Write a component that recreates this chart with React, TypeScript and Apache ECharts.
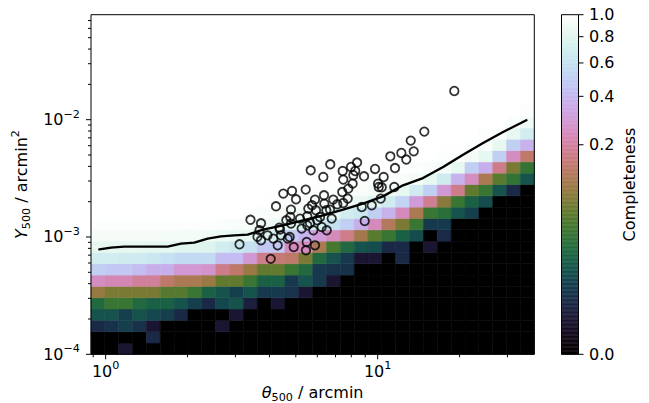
import React, { useEffect, useRef } from 'react';
import * as echarts from 'echarts';

const FONT = '"DejaVu Sans", "Liberation Sans", sans-serif';

// Bin grid of the completeness map (log-spaced edges)
const THETA_EDGE_MIN = 0.8834;
const THETA_EDGE_MAX = 37.65;
const THETA_BINS = 32;
const Y_EDGE_MIN = 1e-4;
const Y_EDGE_MAX = 0.0785;
const Y_BINS = 30;

// Colour scaling of the completeness map
const NORM_GAMMA = 0.3;

// Completeness per cell: row 0 = lowest Y500 bin, column 0 = smallest theta bin
const completeness: number[][] = [
  [0, 0, 0.0005, 0, 0, 0, 0, 0, 0, 0, 0, 0, 0, 0, 0, 0, 0, 0, 0, 0, 0, 0, 0, 0, 0, 0, 0, 0, 0, 0, 0, 0],
  [0, 0, 0, 0, 0.002, 0, 0, 0, 0, 0, 0, 0, 0, 0, 0, 0, 0, 0, 0, 0, 0, 0, 0, 0, 0, 0, 0, 0, 0, 0, 0, 0],
  [0.002, 0.003, 0.005, 0.003, 0.0005, 0, 0, 0, 0, 0.0005, 0, 0, 0, 0, 0, 0, 0, 0, 0, 0, 0, 0, 0, 0, 0, 0, 0, 0, 0, 0, 0, 0],
  [0.01, 0.01, 0.005, 0.01, 0.007, 0.005, 0.002, 0, 0, 0, 0.0005, 0, 0, 0, 0, 0, 0, 0, 0, 0, 0, 0, 0, 0, 0, 0, 0, 0, 0, 0, 0, 0],
  [0.02, 0.033, 0.033, 0.02, 0.015, 0.015, 0.01, 0.005, 0.002, 0.007, 0.01, 0.001, 0, 0.0005, 0, 0, 0, 0, 0, 0, 0, 0, 0, 0, 0, 0, 0, 0, 0, 0, 0, 0],
  [0.09, 0.07, 0.07, 0.07, 0.07, 0.047, 0.047, 0.033, 0.015, 0.01, 0.005, 0.01, 0.004, 0.004, 0.003, 0.0005, 0, 0, 0, 0, 0, 0, 0, 0, 0, 0, 0, 0, 0, 0, 0, 0],
  [0.25, 0.225, 0.225, 0.19, 0.19, 0.136, 0.11, 0.11, 0.093, 0.055, 0.055, 0.033, 0.015, 0.015, 0.004, 0.01, 0.004, 0.0005, 0, 0, 0, 0, 0, 0, 0, 0, 0, 0, 0, 0, 0, 0],
  [0.5, 0.46, 0.46, 0.42, 0.37, 0.37, 0.29, 0.29, 0.27, 0.17, 0.136, 0.093, 0.055, 0.055, 0.033, 0.02, 0.004, 0.003, 0.003, 0, 0, 0, 0, 0, 0, 0, 0, 0, 0, 0, 0, 0],
  [0.7, 0.7, 0.68, 0.68, 0.65, 0.6, 0.56, 0.56, 0.56, 0.42, 0.42, 0.29, 0.17, 0.15, 0.136, 0.07, 0.02, 0.01, 0.004, 0.0005, 0.0005, 0, 0.002, 0, 0, 0, 0, 0, 0, 0, 0, 0],
  [0.84, 0.84, 0.84, 0.84, 0.82, 0.82, 0.8, 0.8, 0.78, 0.7, 0.65, 0.6, 0.46, 0.46, 0.24, 0.24, 0.11, 0.04, 0.02, 0.01, 0.008, 0.002, 0.002, 0, 0.0005, 0, 0, 0, 0, 0, 0, 0],
  [0.93, 0.93, 0.93, 0.93, 0.93, 0.93, 0.92, 0.92, 0.9, 0.88, 0.86, 0.84, 0.75, 0.72, 0.48, 0.38, 0.3, 0.24, 0.17, 0.1, 0.05, 0.033, 0.015, 0.008, 0, 0.002, 0, 0, 0, 0, 0, 0],
  [0.97, 0.97, 0.97, 0.98, 0.98, 0.98, 0.98, 0.98, 0.97, 0.96, 0.95, 0.94, 0.9, 0.88, 0.8, 0.75, 0.7, 0.6, 0.5, 0.37, 0.24, 0.12, 0.07, 0.033, 0.004, 0.004, 0, 0, 0, 0, 0, 0],
  [1, 1, 1, 1, 1, 1, 1, 1, 1, 1, 1, 0.98, 0.96, 0.95, 0.92, 0.9, 0.88, 0.82, 0.7, 0.65, 0.5, 0.38, 0.24, 0.11, 0.033, 0.025, 0.01, 0.005, 0, 0, 0, 0],
  [1, 1, 1, 1, 1, 1, 1, 1, 1, 1, 1, 1, 0.99, 0.98, 0.97, 0.96, 0.95, 0.93, 0.9, 0.86, 0.8, 0.68, 0.52, 0.3, 0.18, 0.08, 0.033, 0.015, 0.008, 0, 0, 0],
  [1, 1, 1, 1, 1, 1, 1, 1, 1, 1, 1, 1, 1, 1, 1, 1, 0.98, 0.97, 0.96, 0.95, 0.93, 0.9, 0.84, 0.68, 0.5, 0.29, 0.17, 0.055, 0.033, 0.01, 0.002, 0],
  [1, 1, 1, 1, 1, 1, 1, 1, 1, 1, 1, 1, 1, 1, 1, 1, 1, 1, 0.99, 0.98, 0.97, 0.96, 0.95, 0.92, 0.84, 0.68, 0.38, 0.25, 0.11, 0.05, 0.03, 0.01],
  [1, 1, 1, 1, 1, 1, 1, 1, 1, 1, 1, 1, 1, 1, 1, 1, 1, 1, 1, 1, 1, 0.99, 0.98, 0.97, 0.95, 0.92, 0.84, 0.5, 0.37, 0.17, 0.07, 0.03],
  [1, 1, 1, 1, 1, 1, 1, 1, 1, 1, 1, 1, 1, 1, 1, 1, 1, 1, 1, 1, 1, 1, 1, 1, 1, 0.98, 0.97, 0.93, 0.84, 0.5, 0.25, 0.136],
  [1, 1, 1, 1, 1, 1, 1, 1, 1, 1, 1, 1, 1, 1, 1, 1, 1, 1, 1, 1, 1, 1, 1, 1, 1, 1, 1, 0.98, 0.96, 0.84, 0.5, 0.38],
  [1, 1, 1, 1, 1, 1, 1, 1, 1, 1, 1, 1, 1, 1, 1, 1, 1, 1, 1, 1, 1, 1, 1, 1, 1, 1, 1, 1, 0.98, 0.96, 0.84, 0.7],
  [1, 1, 1, 1, 1, 1, 1, 1, 1, 1, 1, 1, 1, 1, 1, 1, 1, 1, 1, 1, 1, 1, 1, 1, 1, 1, 1, 1, 1, 0.99, 0.96, 0.9],
  [1, 1, 1, 1, 1, 1, 1, 1, 1, 1, 1, 1, 1, 1, 1, 1, 1, 1, 1, 1, 1, 1, 1, 1, 1, 1, 1, 1, 1, 1, 0.99, 0.97],
  [1, 1, 1, 1, 1, 1, 1, 1, 1, 1, 1, 1, 1, 1, 1, 1, 1, 1, 1, 1, 1, 1, 1, 1, 1, 1, 1, 1, 1, 1, 1, 0.99],
  [1, 1, 1, 1, 1, 1, 1, 1, 1, 1, 1, 1, 1, 1, 1, 1, 1, 1, 1, 1, 1, 1, 1, 1, 1, 1, 1, 1, 1, 1, 1, 1],
  [1, 1, 1, 1, 1, 1, 1, 1, 1, 1, 1, 1, 1, 1, 1, 1, 1, 1, 1, 1, 1, 1, 1, 1, 1, 1, 1, 1, 1, 1, 1, 1],
  [1, 1, 1, 1, 1, 1, 1, 1, 1, 1, 1, 1, 1, 1, 1, 1, 1, 1, 1, 1, 1, 1, 1, 1, 1, 1, 1, 1, 1, 1, 1, 1],
  [1, 1, 1, 1, 1, 1, 1, 1, 1, 1, 1, 1, 1, 1, 1, 1, 1, 1, 1, 1, 1, 1, 1, 1, 1, 1, 1, 1, 1, 1, 1, 1],
  [1, 1, 1, 1, 1, 1, 1, 1, 1, 1, 1, 1, 1, 1, 1, 1, 1, 1, 1, 1, 1, 1, 1, 1, 1, 1, 1, 1, 1, 1, 1, 1],
  [1, 1, 1, 1, 1, 1, 1, 1, 1, 1, 1, 1, 1, 1, 1, 1, 1, 1, 1, 1, 1, 1, 1, 1, 1, 1, 1, 1, 1, 1, 1, 1],
  [1, 1, 1, 1, 1, 1, 1, 1, 1, 1, 1, 1, 1, 1, 1, 1, 1, 1, 1, 1, 1, 1, 1, 1, 1, 1, 1, 1, 1, 1, 1, 1],
];

// Detection-limit curve
const limitTheta = [0.948, 1.046, 1.171, 1.349, 1.69, 1.892, 2.117, 2.372, 2.655, 2.971, 3.327, 3.788, 4.487, 5.315, 6.295, 7.46, 8.83, 10.46, 12.39, 14.68, 17.4, 20.6, 24.4, 28.9, 35.2];
const limitY = [7.85e-4, 8.12e-4, 8.28e-4, 8.28e-4, 8.28e-4, 8.78e-4, 8.95e-4, 9.69e-4, 1.013e-3, 1.033e-3, 1.047e-3, 1.156e-3, 1.257e-3, 1.387e-3, 1.53e-3, 1.71e-3, 1.925e-3, 2.22e-3, 2.76e-3, 3.18e-3, 3.95e-3, 5.03e-3, 6.32e-3, 7.85e-3, 9.88e-3];

// Detected clusters
const clusterTheta = [3.105, 3.407, 3.725, 3.678, 3.615, 3.725, 3.936, 4.229, 4.499, 4.842, 5.01, 4.801, 4.772, 4.801, 4.349, 4.411, 4.67, 4.29, 4.914, 4.044, 5.438, 5.883, 6.35, 6.366, 6.868, 7.105, 6.678, 5.933, 5.559, 5.511, 5.182, 4.374, 4.134, 5.256, 5.511, 5.639, 5.799, 6.227, 6.497, 6.776, 7.474, 6.137, 5.998, 5.483, 5.451, 5.883, 5.673, 6.312, 6.695, 7.436, 7.474, 19.13, 14.84, 13.23, 13.57, 12.22, 11.13, 12.74, 11.58, 9.78, 8.4, 7.98, 8.27, 8.91, 8.14, 10.52, 10.03, 10.09, 10.35, 11.51, 8.09, 7.8, 7.41, 7.76, 8.74, 9.51, 10.26, 8.96, 5.736, 4.748, 4.615, 6.474];
const clusterY = [8.66e-4, 1.401e-3, 1.308e-3, 1.14e-3, 1.003e-3, 9.37e-4, 1.033e-3, 1.826e-3, 2.343e-3, 2.465e-3, 2.095e-3, 1.712e-3, 1.48e-3, 1.3e-3, 1.202e-3, 1.033e-3, 9.68e-4, 8.49e-4, 8.21e-4, 6.51e-4, 2.534e-3, 2.083e-3, 2.266e-3, 1.925e-3, 2.083e-3, 1.899e-3, 1.712e-3, 1.688e-3, 1.745e-3, 1.501e-3, 1.434e-3, 1.156e-3, 9.68e-4, 1.179e-3, 1.257e-3, 1.315e-3, 1.14e-3, 1.216e-3, 1.14e-3, 1.434e-3, 1.948e-3, 1.48e-3, 1.387e-3, 9.06e-4, 7.7e-4, 8.49e-4, 3.702e-3, 3.245e-3, 4.164e-3, 3.651e-3, 3.084e-3, 1.756e-2, 7.91e-3, 6.63e-3, 5.37e-3, 5.2e-3, 4.87e-3, 4.57e-3, 3.87e-3, 3.8e-3, 4.31e-3, 3.95e-3, 3.65e-3, 3.29e-3, 3.36e-3, 3.245e-3, 2.85e-3, 2.667e-3, 2.651e-3, 2.667e-3, 2.85e-3, 2.585e-3, 2.417e-3, 2.124e-3, 1.801e-3, 1.862e-3, 2.124e-3, 1.368e-3, 1.862e-3, 9.99e-4, 1.387e-3, 1.688e-3];

// Axis ticks
const thetaMajorTicks = [1, 10];
const thetaMinorTicks = [0.9, 2, 3, 4, 5, 6, 7, 8, 9, 20, 30];
const yMajorTicks = [1e-4, 1e-3, 1e-2];
const yMinorTicks = [2e-4, 3e-4, 4e-4, 5e-4, 6e-4, 7e-4, 8e-4, 9e-4, 2e-3, 3e-3, 4e-3, 5e-3, 6e-3, 7e-3, 8e-3, 9e-3, 2e-2, 3e-2, 4e-2, 5e-2, 6e-2, 7e-2];
const colorbarTicks = [0, 0.2, 0.4, 0.6, 0.8, 1.0];
const COLORBAR_STEPS = 256;

// matplotlib "cubehelix" colormap (start 0.5, rotations -1.5, hue 1, gamma 1)
function cubehelix(x: number): string {
  const t = Math.min(1, Math.max(0, x));
  const a = (t * (1 - t)) / 2;
  const phi = 2 * Math.PI * (0.5 / 3 - 1.5 * t);
  const c = Math.cos(phi);
  const s = Math.sin(phi);
  const ch = (v: number) => Math.round(Math.min(1, Math.max(0, v)) * 255);
  const r = t + a * (-0.14861 * c + 1.78277 * s);
  const g = t + a * (-0.29227 * c - 0.90649 * s);
  const b = t + a * (1.97294 * c);
  return `rgb(${ch(r)},${ch(g)},${ch(b)})`;
}

function powerNorm(v: number): number {
  return Math.pow(Math.max(0, Math.min(1, v)), NORM_GAMMA);
}

function logEdges(lo: number, hi: number, n: number): number[] {
  const a = Math.log10(lo);
  const b = Math.log10(hi);
  const out: number[] = [];
  for (let i = 0; i <= n; i++) out.push(Math.pow(10, a + ((b - a) * i) / n));
  return out;
}

const thetaEdges = logEdges(THETA_EDGE_MIN, THETA_EDGE_MAX, THETA_BINS);
const yEdges = logEdges(Y_EDGE_MIN, Y_EDGE_MAX, Y_BINS);

const mapCells: number[][] = [];
completeness.forEach((row, j) => {
  row.forEach((v, i) => {
    mapCells.push([thetaEdges[i], thetaEdges[i + 1], yEdges[j], yEdges[j + 1], v]);
  });
});

const colorbarCells: number[][] = [];
for (let k = 0; k < COLORBAR_STEPS; k++) {
  colorbarCells.push([0.5, k / COLORBAR_STEPS, (k + 1) / COLORBAR_STEPS]);
}

const txt = { fontFamily: FONT, color: '#000' };

const powerLabelRich = {
  b: { ...txt, fontSize: 16, lineHeight: 22 },
  e: { ...txt, fontSize: 11.2, lineHeight: 4, verticalAlign: 'top' },
};

function powerLabel(v: number): string {
  const lg = Math.log10(v);
  const e = Math.round(lg);
  if (Math.abs(lg - e) > 1e-6) return '';
  return `{b|10}{e|${e < 0 ? '\u2212' + -e : e}}`;
}

const nameRich = {
  i: { ...txt, fontSize: 16, fontStyle: 'italic', lineHeight: 22 },
  n: { ...txt, fontSize: 16, lineHeight: 22 },
  s: { ...txt, fontSize: 11.2, lineHeight: 13, verticalAlign: 'bottom' },
  p: { ...txt, fontSize: 11.2, lineHeight: 4, verticalAlign: 'top' },
};

export default function App() {
  const ref = useRef<HTMLDivElement>(null);

  useEffect(() => {
    if (!ref.current) return;
    const chart = echarts.init(ref.current, undefined, { renderer: 'svg' });

    const option: any = {
      animation: false,
      backgroundColor: '#ffffff',
      grid: [
        { left: 91, top: 14.7, width: 443.3, height: 339.6, containLabel: false, outerBoundsMode: 'none' },
        { left: 561.5, top: 14.7, width: 17, height: 339.6, containLabel: false, outerBoundsMode: 'none' },
      ],
      xAxis: [
        {
          type: 'log',
          logBase: 10,
          gridIndex: 0,
          min: THETA_EDGE_MIN,
          max: THETA_EDGE_MAX,
          axisLine: { show: false },
          axisTick: { show: false },
          splitLine: { show: false },
          axisLabel: { formatter: powerLabel, margin: 6, rich: powerLabelRich },
          name: '{i|\u03b8}{s|500}{n| / arcmin}',
          nameLocation: 'middle',
          nameGap: 21,
          nameTextStyle: { ...txt, fontSize: 16, rich: nameRich },
        },
        { type: 'value', gridIndex: 1, min: 0, max: 1, show: false },
      ],
      yAxis: [
        {
          type: 'log',
          logBase: 10,
          gridIndex: 0,
          min: Y_EDGE_MIN,
          max: Y_EDGE_MAX,
          axisLine: { show: false },
          axisTick: { show: false },
          splitLine: { show: false },
          axisLabel: { formatter: powerLabel, margin: 11, rich: powerLabelRich },
          name: '{i|Y}{s|500}{n| / arcmin}{p|2}',
          nameLocation: 'middle',
          nameRotate: 90,
          nameGap: 50,
          nameTextStyle: { ...txt, fontSize: 16, rich: nameRich },
        },
        { type: 'value', gridIndex: 1, min: 0, max: 1, show: false },
      ],
      series: [
        {
          type: 'custom',
          name: 'completeness',
          xAxisIndex: 0,
          yAxisIndex: 0,
          z: 1,
          encode: { x: [0, 1], y: [2, 3] },
          data: mapCells,
          renderItem: (_params: any, api: any) => {
            const pA = api.coord([api.value(0), api.value(3)]);
            const pB = api.coord([api.value(1), api.value(2)]);
            const color = cubehelix(powerNorm(api.value(4)));
            return {
              type: 'rect',
              shape: { x: pA[0], y: pA[1], width: pB[0] - pA[0], height: pB[1] - pA[1] },
              style: { fill: color, stroke: color, lineWidth: 0.6 },
            };
          },
        },
        {
          type: 'line',
          name: 'limit',
          xAxisIndex: 0,
          yAxisIndex: 0,
          z: 3,
          showSymbol: false,
          symbol: 'none',
          data: limitTheta.map((t, i) => [t, limitY[i]]),
          lineStyle: { color: '#000', width: 2.4, cap: 'round', join: 'round' },
        },
        {
          type: 'scatter',
          name: 'clusters',
          xAxisIndex: 0,
          yAxisIndex: 0,
          z: 4,
          symbol: 'circle',
          symbolSize: 8.5,
          data: clusterTheta.map((t, i) => [t, clusterY[i]]),
          itemStyle: { color: 'rgba(0,0,0,0)', borderColor: '#000', borderWidth: 1.8 },
        },
        {
          type: 'custom',
          name: 'frame',
          xAxisIndex: 0,
          yAxisIndex: 0,
          z: 6,
          silent: true,
          data: [[1, 1e-3]],
          renderItem: (params: any, api: any) => {
            const cs = params.coordSys;
            const left = cs.x;
            const bottom = cs.y + cs.height;
            const children: any[] = [];
            const tick = (x1: number, y1: number, x2: number, y2: number) =>
              children.push({ type: 'line', shape: { x1, y1, x2, y2 }, style: { stroke: '#000', lineWidth: 1 } });
            thetaMajorTicks.forEach((v) => {
              const px = api.coord([v, Y_EDGE_MIN])[0];
              tick(px, bottom, px, bottom + 5);
            });
            thetaMinorTicks.forEach((v) => {
              const px = api.coord([v, Y_EDGE_MIN])[0];
              tick(px, bottom, px, bottom + 3);
            });
            yMajorTicks.forEach((v) => {
              const py = api.coord([THETA_EDGE_MIN, v])[1];
              tick(left - 5, py, left, py);
            });
            yMinorTicks.forEach((v) => {
              const py = api.coord([THETA_EDGE_MIN, v])[1];
              tick(left - 3, py, left, py);
            });
            children.push({
              type: 'rect',
              shape: { x: cs.x, y: cs.y, width: cs.width, height: cs.height },
              style: { fill: 'none', stroke: '#000', lineWidth: 1 },
            });
            return { type: 'group', children };
          },
        },
        {
          type: 'custom',
          name: 'colorbar',
          xAxisIndex: 1,
          yAxisIndex: 1,
          z: 1,
          silent: true,
          encode: { x: 0, y: [1, 2] },
          data: colorbarCells,
          renderItem: (params: any, api: any) => {
            const cs = params.coordSys;
            const y0 = api.coord([0.5, api.value(1)])[1];
            const y1 = api.coord([0.5, api.value(2)])[1];
            const color = cubehelix((api.value(1) + api.value(2)) / 2);
            return {
              type: 'rect',
              shape: { x: cs.x, y: y1, width: cs.width, height: y0 - y1 },
              style: { fill: color, stroke: color, lineWidth: 0.5 },
            };
          },
        },
        {
          type: 'custom',
          name: 'colorbarAxis',
          xAxisIndex: 1,
          yAxisIndex: 1,
          z: 6,
          silent: true,
          data: [[0.5, 0.5]],
          renderItem: (params: any, api: any) => {
            const cs = params.coordSys;
            const right = cs.x + cs.width;
            const children: any[] = [
              {
                type: 'rect',
                shape: { x: cs.x, y: cs.y, width: cs.width, height: cs.height },
                style: { fill: 'none', stroke: '#000', lineWidth: 1 },
              },
            ];
            colorbarTicks.forEach((v) => {
              const py = api.coord([0.5, powerNorm(v)])[1];
              children.push({
                type: 'line',
                shape: { x1: right, y1: py, x2: right + 5, y2: py },
                style: { stroke: '#000', lineWidth: 1 },
              });
              children.push({
                type: 'text',
                x: right + 10.5,
                y: py,
                style: {
                  text: v.toFixed(1),
                  fill: '#000',
                  fontSize: 16,
                  fontFamily: FONT,
                  align: 'left',
                  verticalAlign: 'middle',
                },
              });
            });
            children.push({
              type: 'text',
              x: right + 51,
              y: cs.y + cs.height / 2,
              rotation: Math.PI / 2,
              style: {
                text: 'Completeness',
                fill: '#000',
                fontSize: 16,
                fontFamily: FONT,
                align: 'center',
                verticalAlign: 'middle',
              },
            });
            return { type: 'group', children };
          },
        },
      ],
    };

    chart.setOption(option);
    return () => chart.dispose();
  }, []);

  return (
    <div
      ref={ref}
      style={{ position: 'fixed', left: 0, top: 0, width: 649, height: 403, background: '#fff' }}
    />
  );
}
